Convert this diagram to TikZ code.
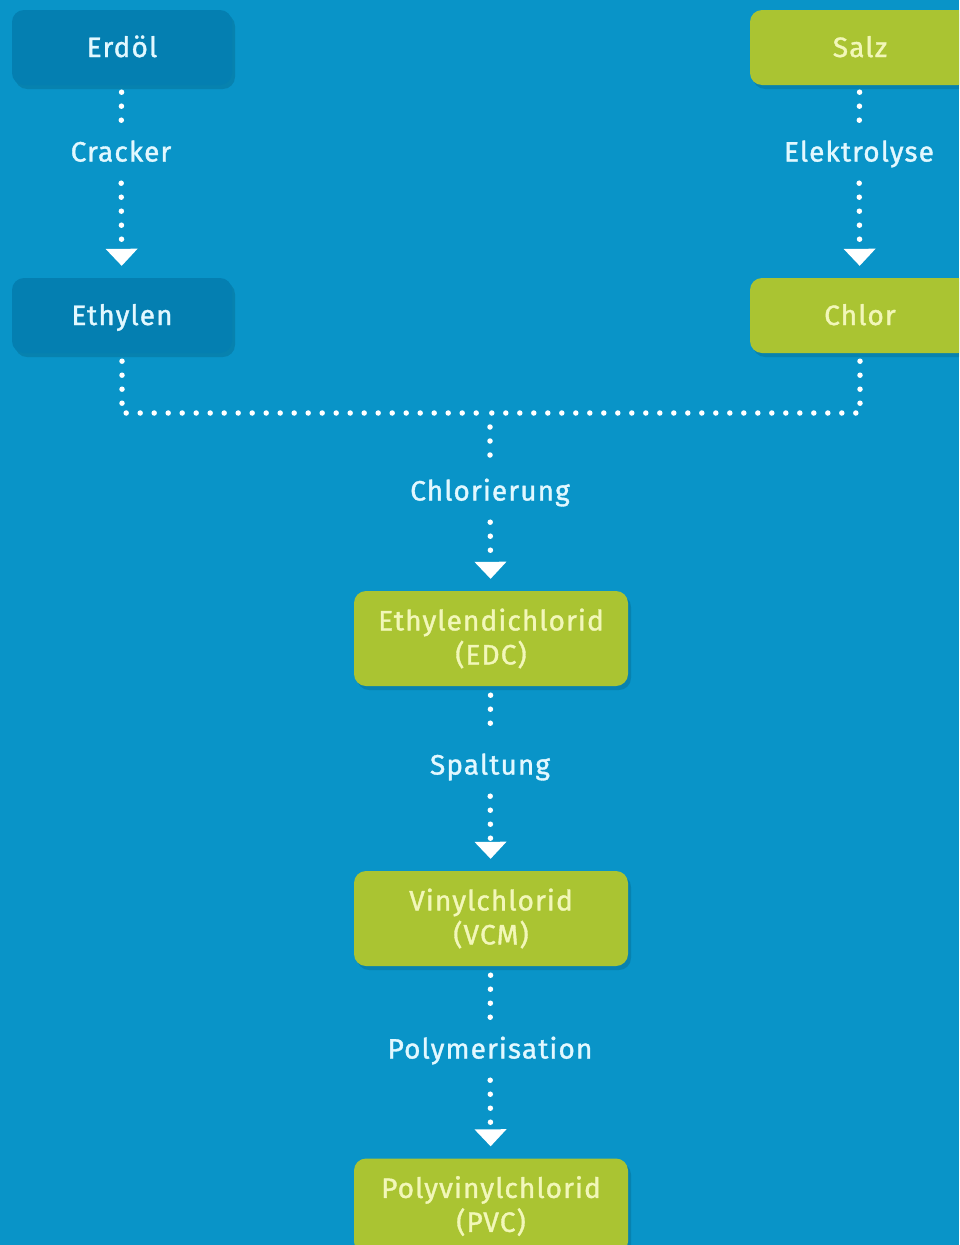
\documentclass[tikz,border=0pt]{standalone}
\usepackage{fontspec}
\setmainfont{Fira Sans}
\newfontfamily\flowfont{Fira Sans}[FakeBold=1.3, LetterSpace=4]
\usetikzlibrary{arrows.meta,shadows}

\definecolor{bgblue}{RGB}{9,148,200}
\definecolor{rawblue}{RGB}{4,127,177}
\definecolor{limebox}{RGB}{170,196,50}
\definecolor{limetext}{RGB}{242,247,185}
\definecolor{cyantext}{RGB}{226,248,255}

\tikzset{
    flowbox/.style={rounded corners=12pt, inner sep=0pt, align=center,
        font=\flowfont\fontsize{28}{34}\selectfont,
        drop shadow={shadow xshift=3pt, shadow yshift=-4pt, opacity=0.12, fill=black}},
    rawbox/.style={flowbox, fill=rawblue, text=cyantext, text height=22pt, text depth=3pt,
        minimum width=220pt, minimum height=75pt},
    limebox/.style={flowbox, fill=limebox, text=limetext, text height=22pt, text depth=3pt,
        minimum width=220pt, minimum height=75pt},
    prodbox/.style={flowbox, fill=limebox, text=limetext,
        minimum width=274pt, minimum height=95pt},
    steplabel/.style={text=cyantext, inner sep=0pt, minimum height=62pt,
        text height=22pt, text depth=3pt,
        font=\flowfont\fontsize{28}{30}\selectfont},
    dotline/.style={white, line width=5.5pt, line cap=round,
        dash pattern=on 0pt off 14pt},
    flowarrow/.style={dotline, shorten >=12pt,
        -{Triangle[width=32pt, length=17pt, line width=0pt, fill=white]}}
}

\begin{document}
\begin{tikzpicture}[x=1pt, y=-1pt]
    % --- Background ---
    \fill[bgblue] (0,0) rectangle (959,1245);
    \useasboundingbox (0,0) rectangle (959,1245);
    \clip (0,0) rectangle (959,1245);

    % --- Raw materials ---
    \node[rawbox]   (erdol)   at (122, 47.5)  {Erdöl};
    \node[limebox]  (salz)    at (860, 47.5)  {Salz};
    \node[rawbox]   (ethylen) at (122, 315.5) {Ethylen};
    \node[limebox]  (chlor)   at (860, 315.5) {Chlor};

    % --- Process steps ---
    \node[steplabel] (cracker)     at (121, 152)  {Cracker};
    \node[steplabel] (elektrolyse) at (859, 152)  {Elektrolyse};
    \node[steplabel] (chlorierung) at (490, 491)  {Chlorierung};
    \node[steplabel] (spaltung)    at (490, 765)  {Spaltung};
    \node[steplabel] (polymer)     at (490, 1049) {Polymerisation};

    % --- Products ---
    \node[prodbox] (edc) at (491, 638.5) {Ethylendichlorid\\(EDC)};
    \node[prodbox] (vcm) at (491, 918.5) {Vinylchlorid\\(VCM)};
    \node[prodbox] (pvc) at (491, 1206)  {Polyvinylchlorid\\(PVC)};

    \coordinate (join) at (490, 413);

    % --- Connectors ---
    \draw[dotline, shorten <=7pt] (erdol) -- (cracker);
    \draw[flowarrow] (cracker) -- (ethylen);
    \draw[dotline, shorten <=7pt] (salz) -- (elektrolyse);
    \draw[flowarrow] (elektrolyse) -- (chlor);

    % Ethylen and Chlor meet on one line
    \draw[dotline, shorten <=8pt] (ethylen.south) |- (join);
    \draw[dotline, shorten <=8pt] (chlor.south -| 860,0) |- (join);
    \draw[dotline, shorten <=14pt] (join) -- (chlorierung);
    \draw[flowarrow] (chlorierung) -- (edc);

    \draw[dotline, shorten <=9pt] (edc) -- (spaltung);
    \draw[flowarrow] (spaltung) -- (vcm);
    \draw[dotline, shorten <=9pt] (vcm) -- (polymer);
    \draw[flowarrow] (polymer) -- (pvc);
\end{tikzpicture}
\end{document}
